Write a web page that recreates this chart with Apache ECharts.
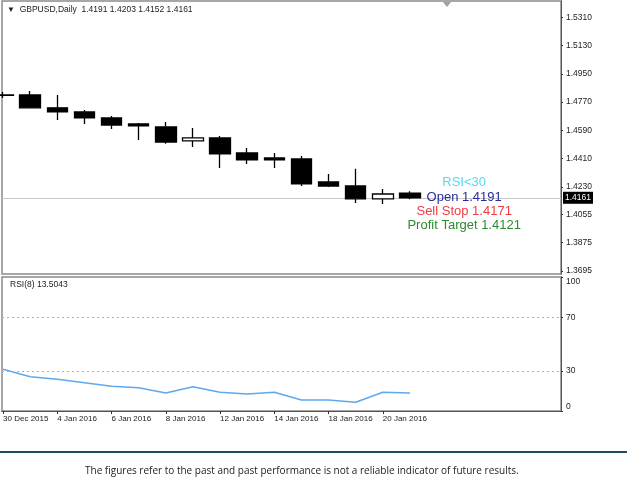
<!DOCTYPE html>
<html style="height: 100%">
<head>
    <meta charset="utf-8">
</head>
<body style="height: 100%; margin: 0; background: #fff">
    <div id="container" style="width: 627px; height: 495px"></div>
    <script src="https://cdn.jsdelivr.net/npm/echarts@6/dist/echarts.min.js"></script>
    <script type="text/javascript">
        // daily bars, GBPUSD
        var dates = ['30 Dec 2015', '31 Dec 2015', '4 Jan 2016', '5 Jan 2016', '6 Jan 2016', '7 Jan 2016',
            '8 Jan 2016', '11 Jan 2016', '12 Jan 2016', '13 Jan 2016', '14 Jan 2016', '15 Jan 2016',
            '18 Jan 2016', '19 Jan 2016', '20 Jan 2016', '21 Jan 2016'];
        var opens  = [1.4815, 1.4815, 1.4733, 1.4707, 1.4669, 1.4631, 1.4612, 1.4523, 1.4542, 1.4446, 1.4414, 1.4408, 1.4262, 1.4236, 1.4154, 1.4191];
        var closes = [1.4813, 1.4733, 1.4707, 1.4669, 1.4624, 1.4618, 1.4516, 1.4542, 1.4440, 1.4402, 1.4402, 1.4249, 1.4236, 1.4154, 1.4185, 1.4161];
        var lows   = [1.4796, 1.4730, 1.4656, 1.4631, 1.4599, 1.4529, 1.4504, 1.4484, 1.4351, 1.4376, 1.4351, 1.4236, 1.4230, 1.4128, 1.4122, 1.4152];
        var highs  = [1.4834, 1.4841, 1.4815, 1.4720, 1.4682, 1.4637, 1.4643, 1.4605, 1.4554, 1.4478, 1.4446, 1.4427, 1.4313, 1.4345, 1.4217, 1.4203];
        var rsi    = [31.1, 25.6, 23.7, 21.1, 18.4, 17.4, 13.4, 18.1, 14.0, 12.7, 14.0, 8.2, 8.2, 6.5, 14.0, 13.5];

        var priceTicks = [1.3695, 1.3875, 1.4055, 1.4230, 1.4410, 1.4590, 1.4770, 1.4950, 1.5130, 1.5310];
        var rsiTicks = [0, 30, 70, 100];
        var rsiLevels = [30, 70];
        var dateTicks = [0, 2, 4, 6, 8, 10, 12, 14];
        var lastPrice = 1.4161;

        // text objects placed on the chart (bar index, price)
        var notes = ['RSI<30', 'Open 1.4191', 'Sell Stop 1.4171', 'Profit Target 1.4121'];
        var notePrices = [1.4260, 1.4161, 1.4072, 1.3983];
        var noteBar = 17;

        var noteColors = ['#52daf3', '#2a2a9c', '#ef3b45', '#2f8a2f'];
        var font = 'Liberation Sans';

        var candles = dates.map(function (d, i) {
            return [i, opens[i], closes[i], lows[i], highs[i]];
        });
        var rsiData = rsi.map(function (v, i) { return [i, v]; });
        var noteData = notes.map(function (t, i) {
            return {
                name: t,
                value: [noteBar, notePrices[i]],
                label: { color: noteColors[i] }
            };
        });

        var chart = echarts.init(document.getElementById('container'));

        var option = {
            backgroundColor: '#fff',
            animation: false,
            textStyle: { fontFamily: font },
            title: [{
                text: '{t|▼}  GBPUSD,Daily  1.4191 1.4203 1.4152 1.4161',
                left: 2, top: 0,
                textStyle: {
                    fontSize: 8.5, fontWeight: 'normal', color: '#222', fontFamily: font,
                    rich: { t: { fontSize: 8, color: '#222' } }
                }
            }, {
                text: 'RSI(8) 13.5043',
                left: 5, top: 275,
                textStyle: { fontSize: 8.5, fontWeight: 'normal', color: '#222', fontFamily: font }
            }],
            grid: [{
                left: 2, top: 1, width: 559, height: 273,
                show: true, borderColor: '#8a8a8a', borderWidth: 1.5
            }, {
                left: 2, top: 277, width: 559, height: 134,
                show: true, borderColor: '#8a8a8a', borderWidth: 1.5
            }],
            xAxis: [{
                type: 'value', gridIndex: 0, min: -0.04, max: 20.57, show: false
            }, {
                type: 'value', gridIndex: 1, min: -0.04, max: 20.57,
                axisLine: { onZero: false, lineStyle: { color: '#555', width: 1 } },
                axisTick: { customValues: dateTicks, length: 3, lineStyle: { color: '#333' } },
                splitLine: { show: false },
                axisLabel: {
                    customValues: dateTicks,
                    formatter: function (v) { return dates[v]; },
                    align: 'left', margin: 4,
                    fontSize: 8, color: '#222', fontFamily: font
                }
            }],
            yAxis: [{
                type: 'value', gridIndex: 0, position: 'right',
                min: 1.3676, max: 1.5413,
                axisLine: { show: true, onZero: false, lineStyle: { color: '#555', width: 1 } },
                axisTick: { show: true, customValues: priceTicks, length: 2, lineStyle: { color: '#333' } },
                splitLine: { show: false },
                axisLabel: {
                    customValues: priceTicks,
                    formatter: function (v) { return v.toFixed(4); },
                    margin: 5, fontSize: 8.5, color: '#222', fontFamily: font
                }
            }, {
                type: 'value', gridIndex: 1, position: 'right', min: 0, max: 100,
                axisLine: { show: true, onZero: false, lineStyle: { color: '#555', width: 1 } },
                axisTick: { show: true, customValues: rsiTicks, length: 2, lineStyle: { color: '#333' } },
                splitLine: { show: false },
                axisLabel: {
                    customValues: rsiTicks,
                    verticalAlignMinLabel: 'bottom',
                    verticalAlignMaxLabel: 'top',
                    margin: 5, fontSize: 8.5, color: '#222', fontFamily: font
                }
            }],
            series: [{
                name: 'GBPUSD',
                type: 'candlestick',
                xAxisIndex: 0, yAxisIndex: 0,
                encode: { x: 0, y: [1, 2, 3, 4] },
                barWidth: 21,
                itemStyle: {
                    color: '#fff', color0: '#000',
                    borderColor: '#000', borderColor0: '#000', borderWidth: 1.3
                },
                data: candles
            }, {
                name: 'notes',
                type: 'scatter',
                xAxisIndex: 0, yAxisIndex: 0,
                symbolSize: 0,
                silent: true,
                z: 5,
                itemStyle: { opacity: 1 },
                label: {
                    show: true, position: 'inside', formatter: '{b}',
                    fontSize: 13, fontFamily: font, opacity: 1
                },
                data: noteData,
                markLine: {
                    silent: true, symbol: 'none', z: 1, precision: 4,
                    lineStyle: { color: '#c8c8c8', type: 'solid', width: 1 },
                    label: {
                        show: true, position: 'end', distance: 2,
                        formatter: function () { return lastPrice.toFixed(4); },
                        backgroundColor: '#000', color: '#fff', padding: [2, 2, 1, 2],
                        fontSize: 8.5, fontFamily: font
                    },
                    data: [{ yAxis: lastPrice }]
                }
            }, {
                name: 'RSI(8)',
                type: 'line',
                xAxisIndex: 1, yAxisIndex: 1,
                showSymbol: false,
                lineStyle: { color: '#5ea9ee', width: 1.5 },
                data: rsiData,
                markLine: {
                    silent: true, symbol: 'none', label: { show: false },
                    lineStyle: { color: '#b0b0b0', type: [2, 3], width: 1 },
                    data: rsiLevels.map(function (v) { return { yAxis: v }; })
                }
            }],
            graphic: [{
                type: 'polygon', silent: true,
                shape: { points: [[443, 2], [451, 2], [447, 7]] },
                style: { fill: '#a0a0a0' }
            }, {
                type: 'rect', silent: true,
                shape: { x: 0, y: 451, width: 627, height: 2 },
                style: { fill: '#1d4c60' }
            }, {
                type: 'text', silent: true,
                left: 85, top: 466,
                style: {
                    text: 'The figures refer to the past and past performance is not a reliable indicator of future results.',
                    fontSize: 10, fill: '#222', fontFamily: 'Open Sans'
                }
            }]
        };

        option && chart.setOption(option);
    </script>
</body>
</html>
